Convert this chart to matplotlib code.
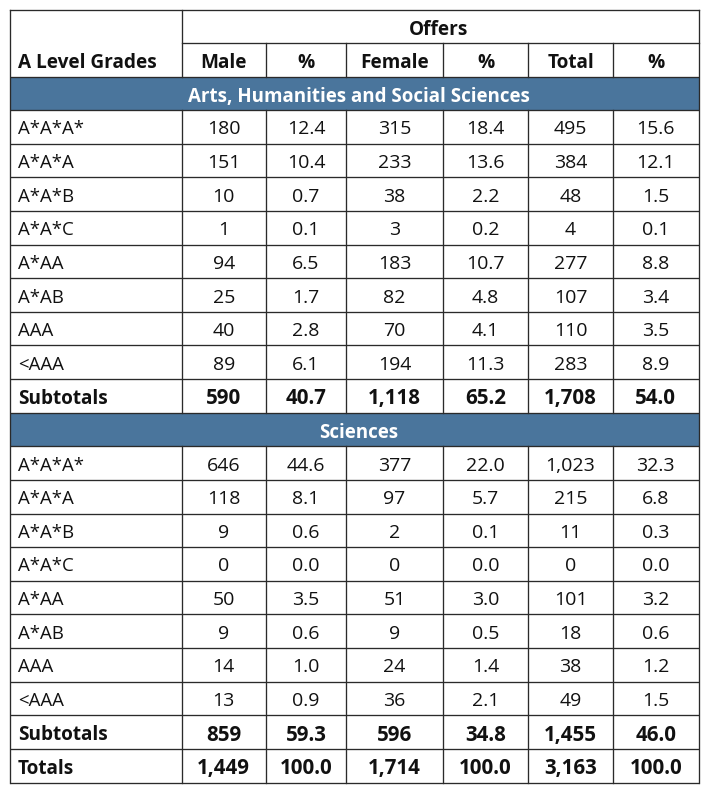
import matplotlib
matplotlib.use("Agg")
import matplotlib.pyplot as plt
from matplotlib.patches import Rectangle

plt.rcParams['font.family'] = ['Open Sans', 'Noto Sans CJK SC', 'DejaVu Sans']

grades = ["A*A*A*", "A*A*A", "A*A*B", "A*A*C", "A*AA", "A*AB", "AAA", "<AAA"]
columns = ["Male", "%", "Female", "%", "Total", "%"]

arts_male = ["180", "151", "10", "1", "94", "25", "40", "89"]
arts_male_pct = ["12.4", "10.4", "0.7", "0.1", "6.5", "1.7", "2.8", "6.1"]
arts_female = ["315", "233", "38", "3", "183", "82", "70", "194"]
arts_female_pct = ["18.4", "13.6", "2.2", "0.2", "10.7", "4.8", "4.1", "11.3"]
arts_total = ["495", "384", "48", "4", "277", "107", "110", "283"]
arts_total_pct = ["15.6", "12.1", "1.5", "0.1", "8.8", "3.4", "3.5", "8.9"]
arts_sub = ["590", "40.7", "1,118", "65.2", "1,708", "54.0"]

sci_male = ["646", "118", "9", "0", "50", "9", "14", "13"]
sci_male_pct = ["44.6", "8.1", "0.6", "0.0", "3.5", "0.6", "1.0", "0.9"]
sci_female = ["377", "97", "2", "0", "51", "9", "24", "36"]
sci_female_pct = ["22.0", "5.7", "0.1", "0.0", "3.0", "0.5", "1.4", "2.1"]
sci_total = ["1,023", "215", "11", "0", "101", "18", "38", "49"]
sci_total_pct = ["32.3", "6.8", "0.3", "0.0", "3.2", "0.6", "1.2", "1.5"]
sci_sub = ["859", "59.3", "596", "34.8", "1,455", "46.0"]

totals = ["1,449", "100.0", "1,714", "100.0", "3,163", "100.0"]

arts_rows = list(zip(arts_male, arts_male_pct, arts_female, arts_female_pct, arts_total, arts_total_pct))
sci_rows = list(zip(sci_male, sci_male_pct, sci_female, sci_female_pct, sci_total, sci_total_pct))

# pixel grid of the table
xs = [9.5, 181.5, 266, 346, 443, 528, 613, 698.5]
top, head1, head2 = 9.5, 43, 76.5
row_h = (782.5 - 76.5) / 21
blue = "#4a759c"
black = "#111111"
line = "#2a2a2a"
lw = 0.95
fs = 14
fs_label = 13.4
fs_bold = 13.7
fs_band = 13.5
fs_num_bold = 14.8

fig = plt.figure(figsize=(7.07, 7.94), dpi=100)
ax = fig.add_axes([0, 0, 1, 1])
ax.set_xlim(0, 707)
ax.set_ylim(794, 0)
ax.axis("off")

def y_of(i):
    return head2 + i * row_h

def put_row(i, label, vals, bold=False, head=False):
    w = "bold" if bold else "normal"
    yc = y_of(i) + row_h / 2 + 0.5
    ax.text(18, yc, label, ha="left", va="center_baseline",
            fontsize=fs_bold if bold else fs_label, fontweight=w, color=black)
    size = fs_bold if head else (fs_num_bold if bold else fs)
    for j, v in enumerate(vals):
        ax.text((xs[j + 1] + xs[j + 2]) / 2, yc, v, ha="center", va="center_baseline",
                fontsize=size, fontweight=w, color=black)

def put_band(i, label):
    ax.add_patch(Rectangle((xs[0], y_of(i)), xs[-1] - xs[0], row_h, color=blue, lw=0))
    ax.text(359, y_of(i) + row_h / 2 + 1, label, ha="center", va="center_baseline",
            fontsize=fs_band, fontweight="bold", color="white")

# header
ax.text(439, (top + head1) / 2 + 1, "Offers", ha="center", va="center_baseline",
        fontsize=fs_bold, fontweight="bold", color=black)
put_row(-1, "A Level Grades", columns, bold=True, head=True)

put_band(0, "Arts, Humanities and Social Sciences")
for k in range(8):
    put_row(1 + k, grades[k], arts_rows[k])
put_row(9, "Subtotals", arts_sub, bold=True)

put_band(10, "Sciences")
for k in range(8):
    put_row(11 + k, grades[k], sci_rows[k])
put_row(19, "Subtotals", sci_sub, bold=True)
put_row(20, "Totals", totals, bold=True)

# grid lines
for i in range(0, 22):
    ax.plot([xs[0], xs[-1]], [y_of(i), y_of(i)], color=line, lw=lw, solid_capstyle="butt")
ax.plot([xs[0], xs[-1]], [top, top], color=line, lw=lw)
ax.plot([xs[1], xs[-1]], [head1, head1], color=line, lw=lw)
ax.plot([xs[0], xs[0]], [top, y_of(21)], color=line, lw=lw)
ax.plot([xs[-1], xs[-1]], [top, y_of(21)], color=line, lw=lw)
ax.plot([xs[1], xs[1]], [top, y_of(0)], color=line, lw=lw)
for x in xs[2:-1]:
    ax.plot([x, x], [head1, y_of(0)], color=line, lw=lw)
for a, b in [(1, 10), (11, 21)]:
    for x in xs[1:-1]:
        ax.plot([x, x], [y_of(a), y_of(b)], color=line, lw=lw)

fig.savefig("out.png", dpi=100)
